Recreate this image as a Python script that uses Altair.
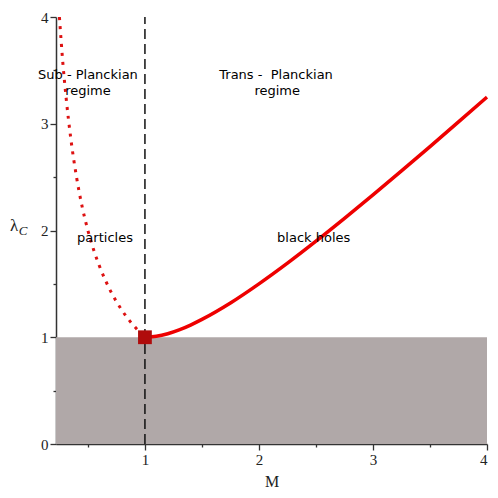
import altair as alt
import pandas as pd

# dotted branch (particles): M vs lambda_C
m_dotted = [0.25, 0.28, 0.31, 0.35, 0.40, 0.45, 0.50, 0.55, 0.60, 0.70, 0.80, 0.90, 1.00]
lam_dotted = [4.00, 3.57, 3.23, 2.86, 2.50, 2.22, 2.00, 1.82, 1.67, 1.43, 1.25, 1.11, 1.00]

# solid branch (black holes)
m_solid = [1.00, 1.10, 1.20, 1.30, 1.40, 1.50, 1.75, 2.00, 2.25, 2.50, 2.75, 3.00, 3.25, 3.50, 3.75, 4.00]
lam_solid = [1.000, 1.009, 1.033, 1.069, 1.114, 1.167, 1.321, 1.500, 1.694, 1.900, 2.114,
             2.333, 2.558, 2.786, 3.017, 3.250]

# shaded region
shade_m = [0.22, 4.0]
shade_lam = [0.0, 1.0]

# Planck point
planck_m = [1.0]
planck_lam = [1.0]

# annotations
ann_text = ["Sub - Planckian", "regime", "Trans -\u00a0 Planckian", "regime", "particles", "black holes"]
ann_m = [0.50, 0.50, 2.15, 2.16, 0.65, 2.48]
ann_lam = [3.46, 3.31, 3.46, 3.31, 1.93, 1.93]

x_ticks = [0.5, 1, 1.5, 2, 2.5, 3, 3.5, 4]
y_ticks = [0, 0.5, 1, 1.5, 2, 2.5, 3, 3.5, 4]

xs = alt.Scale(domain=[0.22, 4], nice=False, zero=False)
ys = alt.Scale(domain=[0, 4], nice=False, zero=False)

tick_size = {"condition": {"test": "datum.value % 1 === 0", "value": 6}, "value": 3}
label_expr = "datum.value % 1 === 0 ? format(datum.value, 'd') : ''"

x_axis = alt.Axis(values=x_ticks, labelExpr=label_expr, tickSize=tick_size, title="M",
                  labelFont="Liberation Serif", labelFontSize=15, titleFont="Liberation Serif",
                  titleFontSize=16, titleFontWeight="normal", labelPadding=2, titlePadding=6,
                  domainColor="#333333", tickColor="#333333", domainWidth=1.5, tickWidth=1.3,
                  labelColor="#222222", titleColor="#222222", grid=False)
y_axis = alt.Axis(values=y_ticks, labelExpr=label_expr, tickSize=tick_size, title=None,
                  labelFont="Liberation Serif", labelFontSize=15, labelPadding=2,
                  domainColor="#333333", tickColor="#333333", domainWidth=1.5, tickWidth=1.3,
                  labelColor="#222222", grid=False)

shade_df = pd.DataFrame({"m": [shade_m[0]], "m2": [shade_m[1]], "l": [shade_lam[0]], "l2": [shade_lam[1]]})
shade = alt.Chart(shade_df).mark_rect(color="#b0a8a8").encode(
    x=alt.X("m:Q", scale=xs, axis=x_axis), x2="m2", y=alt.Y("l:Q", scale=ys, axis=y_axis), y2="l2")

rule_df = pd.DataFrame({"m": [1.0], "l": [0.0], "l2": [4.0]})
rule = alt.Chart(rule_df).mark_rule(color="#111111", strokeWidth=1.5, strokeDash=[10, 5]).encode(
    x=alt.X("m:Q", scale=xs), y=alt.Y("l:Q", scale=ys), y2="l2")

dot_df = pd.DataFrame({"m": m_dotted, "l": lam_dotted})
dotted = alt.Chart(dot_df).mark_line(color="#dd1111", strokeWidth=3, strokeDash=[3, 6],
                                     interpolate="monotone").encode(
    x=alt.X("m:Q", scale=xs), y=alt.Y("l:Q", scale=ys))

sol_df = pd.DataFrame({"m": m_solid, "l": lam_solid})
solid = alt.Chart(sol_df).mark_line(color="#ee0000", strokeWidth=3.5, interpolate="monotone").encode(
    x=alt.X("m:Q", scale=xs), y=alt.Y("l:Q", scale=ys))

pt_df = pd.DataFrame({"m": planck_m, "l": planck_lam})
point = alt.Chart(pt_df).mark_square(size=190, color="#b00c0c", opacity=1, filled=True).encode(
    x=alt.X("m:Q", scale=xs), y=alt.Y("l:Q", scale=ys))

ann_df = pd.DataFrame({"m": ann_m, "l": ann_lam, "t": ann_text})
ann = alt.Chart(ann_df).mark_text(font="DejaVu Sans", fontSize=13, align="center",
                                  baseline="middle", color="#000000").encode(
    x=alt.X("m:Q", scale=xs), y=alt.Y("l:Q", scale=ys), text="t:N")

lab_df = pd.DataFrame({"t": ["λ"]})
lam_lab = alt.Chart(lab_df).mark_text(font="Liberation Serif", fontSize=17, align="center",
                                      baseline="alphabetic", color="#222222").encode(
    x=alt.value(-42), y=alt.value(214), text="t:N")
sub_df = pd.DataFrame({"t": ["C"]})
sub_lab = alt.Chart(sub_df).mark_text(font="Liberation Serif", fontSize=13, fontStyle="italic",
                                      align="center", baseline="alphabetic", color="#222222").encode(
    x=alt.value(-33), y=alt.value(218), text="t:N")

chart = alt.layer(shade, rule, dotted, solid, point, ann, lam_lab, sub_lab).properties(
    width=431, height=427,
    autosize=alt.AutoSizeParams(type="none"),
    padding={"left": 48, "top": 9, "right": 3, "bottom": 46},
).configure_view(stroke=None)

chart.save("out.html", embed_options={"renderer": "svg", "actions": False})
